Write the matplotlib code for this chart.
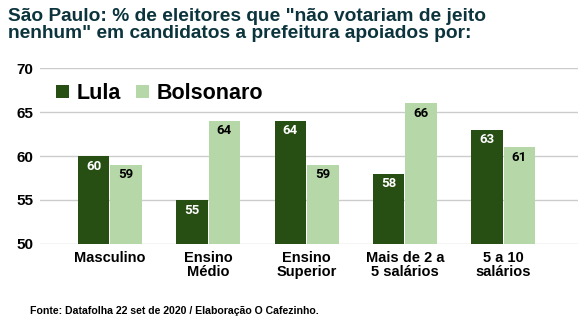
import matplotlib
matplotlib.use("Agg")
import matplotlib.pyplot as plt
import numpy as np

categorias = ["Masculino", "Ensino\nMédio", "Ensino\nSuperior", "Mais de 2 a\n5 salários", "5 a 10\nsalários"]
lula = [60, 55, 64, 58, 63]
bolsonaro = [59, 64, 59, 66, 61]

cor_lula = "#274e13"
cor_bolso = "#b6d7a8"

plt.rcParams['font.family'] = ['Liberation Sans', 'DejaVu Sans']

fig = plt.figure(figsize=(5.81, 3.31), dpi=100)
ax = fig.add_axes([40/581, 1-244/331, 538/581, 176/331])

x = np.arange(len(categorias))
w = 0.32
b1 = ax.bar(x - w/2 - 0.005, np.array(lula) - 50, w, bottom=50, color=cor_lula, label="Lula", zorder=3)
b2 = ax.bar(x + w/2 + 0.005, np.array(bolsonaro) - 50, w, bottom=50, color=cor_bolso, label="Bolsonaro", zorder=3)

# valores dentro das barras
for i in range(len(x)):
    ax.text(x[i] - w/2 - 0.005, lula[i] - 1.15, str(lula[i]), ha='center', va='center',
            color='white', fontsize=9.5, fontweight='bold', family='Roboto', zorder=4)
    ax.text(x[i] + w/2 + 0.005, bolsonaro[i] - 1.15, str(bolsonaro[i]), ha='center', va='center',
            color='black', fontsize=9.5, fontweight='bold', family='Roboto', zorder=4)

ax.set_ylim(50, 70)
ax.set_yticks([50, 55, 60, 65, 70])
ax.set_xlim(-0.71, 4.76)
ax.set_xticks(x)
ax.set_xticklabels(categorias, fontsize=10.5, fontweight='bold', linespacing=1.0)
for t in ax.get_yticklabels():
    t.set_fontsize(11)
    t.set_fontweight('bold')
ax.tick_params(axis='both', length=0, pad=5)
ax.grid(axis='y', color='#cccccc', linewidth=1, zorder=0)
for s in ax.spines.values():
    s.set_visible(False)

leg = ax.legend(loc='center left', bbox_to_anchor=(-0.006, 0.855), ncol=2, frameon=False,
                prop={'size': 15.5, 'weight': 'bold'}, handlelength=0.6, handleheight=0.6,
                handletextpad=0.35, columnspacing=0.7)

fig.text(8/581, 1-8/331, 'São Paulo: % de eleitores que "não votariam de jeito\nnenhum" em candidatos a prefeitura apoiados por:',
         ha='left', va='top', fontsize=13.8, fontweight='bold', color='#0c343d', linespacing=1.0)
fig.text(30/581, 1-311/331, 'Fonte: Datafolha 22 set de 2020 / Elaboração O Cafezinho.',
         ha='left', va='center', fontsize=7.6, fontweight='bold')

fig.savefig('out.png', dpi=100)
